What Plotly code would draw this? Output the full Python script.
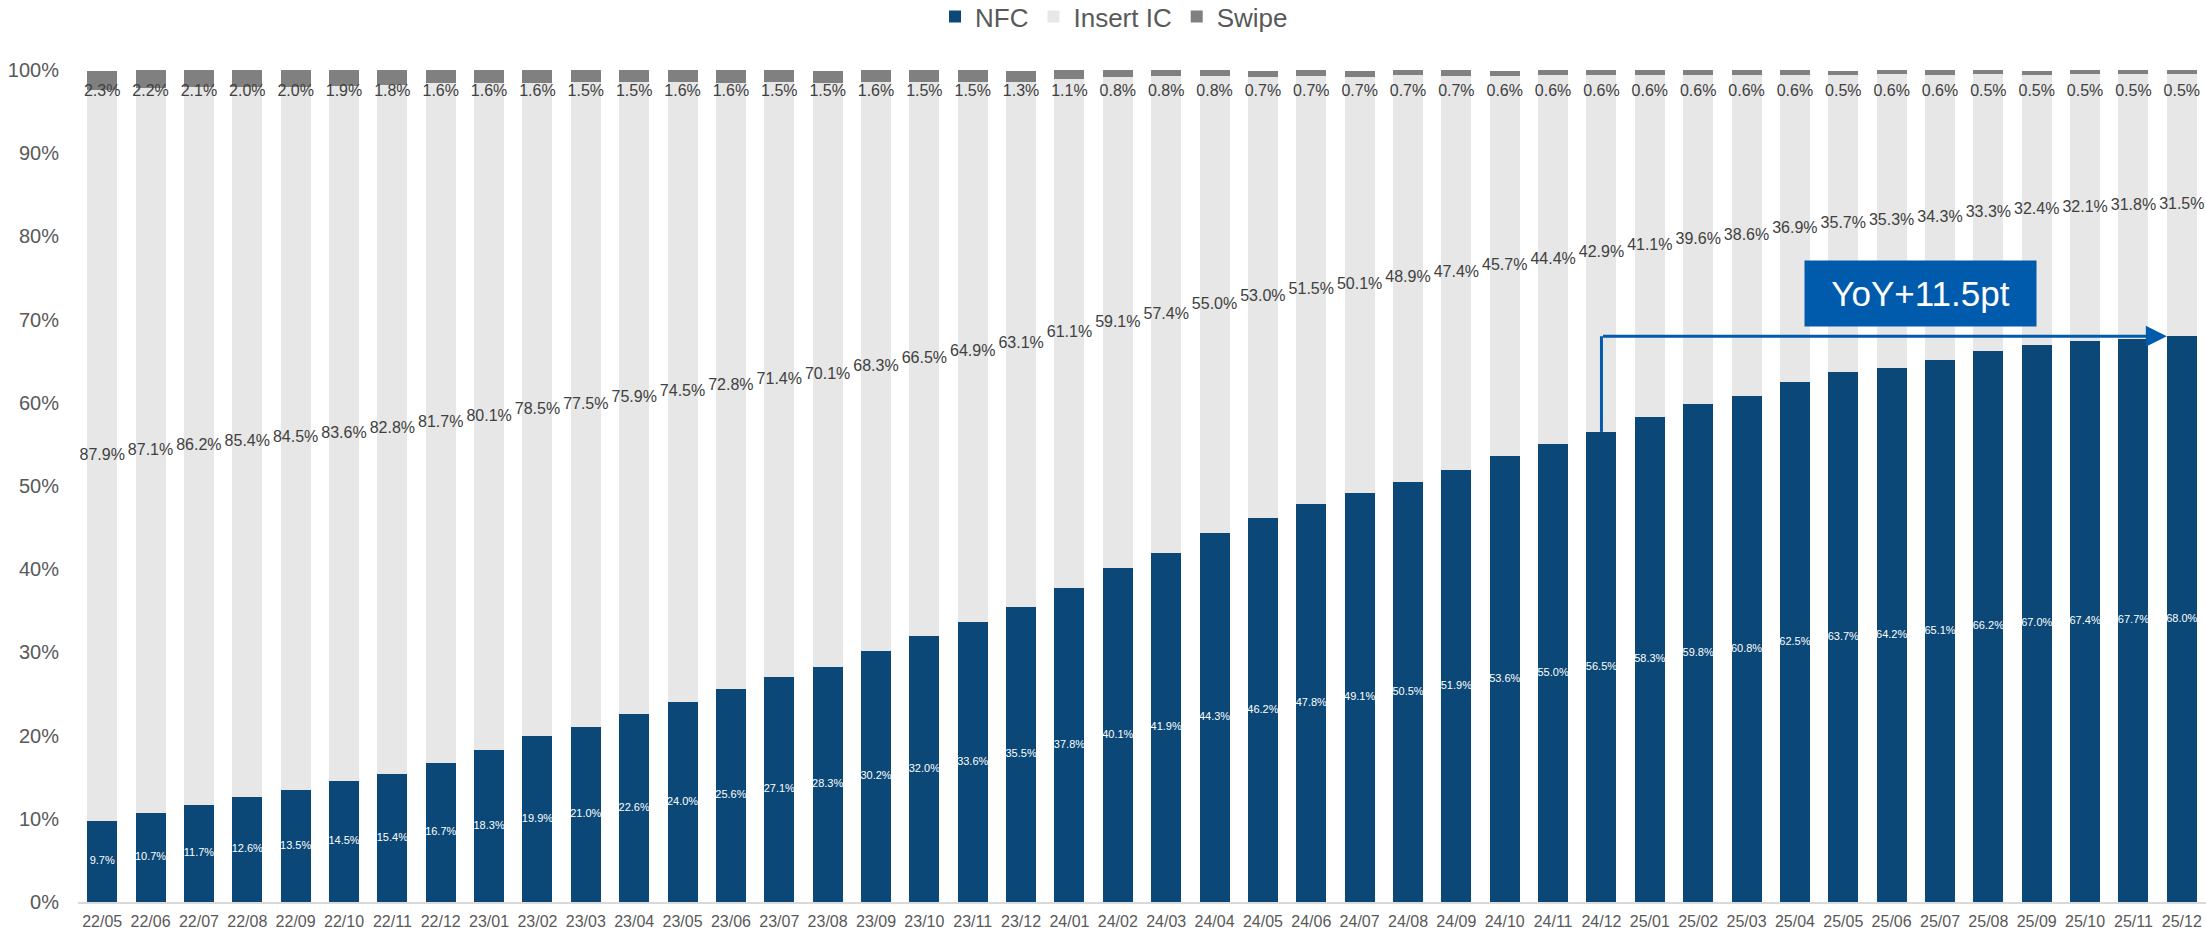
import plotly.graph_objects as go

months = ["22/05", "22/06", "22/07", "22/08", "22/09", "22/10", "22/11", "22/12",
          "23/01", "23/02", "23/03", "23/04", "23/05", "23/06", "23/07", "23/08",
          "23/09", "23/10", "23/11", "23/12", "24/01", "24/02", "24/03", "24/04",
          "24/05", "24/06", "24/07", "24/08", "24/09", "24/10", "24/11", "24/12",
          "25/01", "25/02", "25/03", "25/04", "25/05", "25/06", "25/07", "25/08",
          "25/09", "25/10", "25/11", "25/12"]

nfc = [9.7, 10.7, 11.7, 12.6, 13.5, 14.5, 15.4, 16.7, 18.3, 19.9, 21.0, 22.6,
       24.0, 25.6, 27.1, 28.3, 30.2, 32.0, 33.6, 35.5, 37.8, 40.1, 41.9, 44.3,
       46.2, 47.8, 49.1, 50.5, 51.9, 53.6, 55.0, 56.5, 58.3, 59.8, 60.8, 62.5,
       63.7, 64.2, 65.1, 66.2, 67.0, 67.4, 67.7, 68.0]

insert_ic = [87.9, 87.1, 86.2, 85.4, 84.5, 83.6, 82.8, 81.7, 80.1, 78.5, 77.5, 75.9,
             74.5, 72.8, 71.4, 70.1, 68.3, 66.5, 64.9, 63.1, 61.1, 59.1, 57.4, 55.0,
             53.0, 51.5, 50.1, 48.9, 47.4, 45.7, 44.4, 42.9, 41.1, 39.6, 38.6, 36.9,
             35.7, 35.3, 34.3, 33.3, 32.4, 32.1, 31.8, 31.5]

swipe = [2.3, 2.2, 2.1, 2.0, 2.0, 1.9, 1.8, 1.6, 1.6, 1.6, 1.5, 1.5,
         1.6, 1.6, 1.5, 1.5, 1.6, 1.5, 1.5, 1.3, 1.1, 0.8, 0.8, 0.8,
         0.7, 0.7, 0.7, 0.7, 0.7, 0.6, 0.6, 0.6, 0.6, 0.6, 0.6, 0.6,
         0.5, 0.6, 0.6, 0.5, 0.5, 0.5, 0.5, 0.5]

yticks = [0, 10, 20, 30, 40, 50, 60, 70, 80, 90, 100]
ytick_labels = ["0%", "10%", "20%", "30%", "40%", "50%", "60%", "70%", "80%", "90%", "100%"]
yoy_from = "24/12"

C_NFC = "#0B4877"
C_IC = "#E7E7E7"
C_SW = "#808080"
C_ACC = "#005BAC"
FONT = "Liberation Sans"
BARGAP = 0.38

def pct(v):
    return f"{v:.1f}%"

fig = go.Figure()
fig.add_bar(x=months, y=nfc, name="NFC", marker_color=C_NFC,
            marker_line_width=0, hoverinfo="skip")
fig.add_bar(x=months, y=insert_ic, name="Insert IC", marker_color=C_IC,
            marker_line_width=0, hoverinfo="skip")
fig.add_bar(x=months, y=swipe, name="Swipe", marker_color=C_SW,
            marker_line_width=0, hoverinfo="skip")

# labels
fig.add_scatter(x=months, y=[v / 2 for v in nfc], mode="text",
                text=[pct(v) for v in nfc], showlegend=False, cliponaxis=False,
                textfont=dict(family=FONT, size=11, color="white"), hoverinfo="skip")
fig.add_scatter(x=months, y=[a + b / 2 for a, b in zip(nfc, insert_ic)], mode="text",
                text=[pct(v) for v in insert_ic], showlegend=False, cliponaxis=False,
                textfont=dict(family=FONT, size=16, color="#404040"), hoverinfo="skip")
fig.add_scatter(x=months, y=[97.3] * len(months), mode="text",
                text=[pct(v) for v in swipe], showlegend=False, cliponaxis=False,
                textfont=dict(family=FONT, size=16, color="#404040"), hoverinfo="skip")

# YoY arrow
i0 = months.index(yoy_from)
i1 = len(months) - 1
y0 = nfc[i0]
y1 = nfc[i1]
half = (1 - BARGAP) / 2
fig.add_shape(type="line", xref="x", yref="y", x0=i0, x1=i0, y0=y0, y1=y1,
              line=dict(color=C_ACC, width=3))
fig.add_annotation(x=i1 - half, y=y1, ax=i0, ay=y1, xref="x", yref="y",
                   axref="x", ayref="y", text="", showarrow=True,
                   arrowhead=2, arrowsize=1.4, arrowwidth=3, arrowcolor=C_ACC,
                   standoff=0, startstandoff=0)
fig.add_annotation(x=37.6, y=73.1, xref="x", yref="y", showarrow=False,
                   text=f"YoY+{y1 - y0:.1f}pt", width=231, height=65,
                   bgcolor=C_ACC, borderpad=0, align="center",
                   font=dict(family=FONT, size=35, color="white"))

fig.update_layout(
    barmode="stack",
    bargap=BARGAP,
    width=2206, height=929,
    margin=dict(l=78, r=0, t=70, b=27),
    paper_bgcolor="white", plot_bgcolor="white",
    font=dict(family=FONT, color="#595959"),
    legend=dict(orientation="h", xref="container", yref="container",
                x=0.505, xanchor="center", y=0.982, yanchor="middle",
                font=dict(family=FONT, size=26, color="#595959"),
                traceorder="normal"),
    xaxis=dict(type="category", range=[-0.5, len(months) - 0.5], autorange=False,
               showgrid=False, showline=True, linecolor="#D9D9D9",
               linewidth=2, ticks="outside", ticklen=4, tickcolor="rgba(0,0,0,0)",
               tickfont=dict(family=FONT, size=16, color="#595959"), tickangle=0),
    yaxis=dict(range=[0, 100], autorange=False, tickvals=yticks, ticktext=ytick_labels,
               showgrid=False, zeroline=False, showline=False, ticks="outside",
               ticklen=14, tickcolor="rgba(0,0,0,0)",
               tickfont=dict(family=FONT, size=20, color="#595959")),
)

fig.write_html("out.html", config={"displayModeBar": False},
               post_script="document.body.style.margin='0';"
                           "document.body.style.overflow='hidden';")
